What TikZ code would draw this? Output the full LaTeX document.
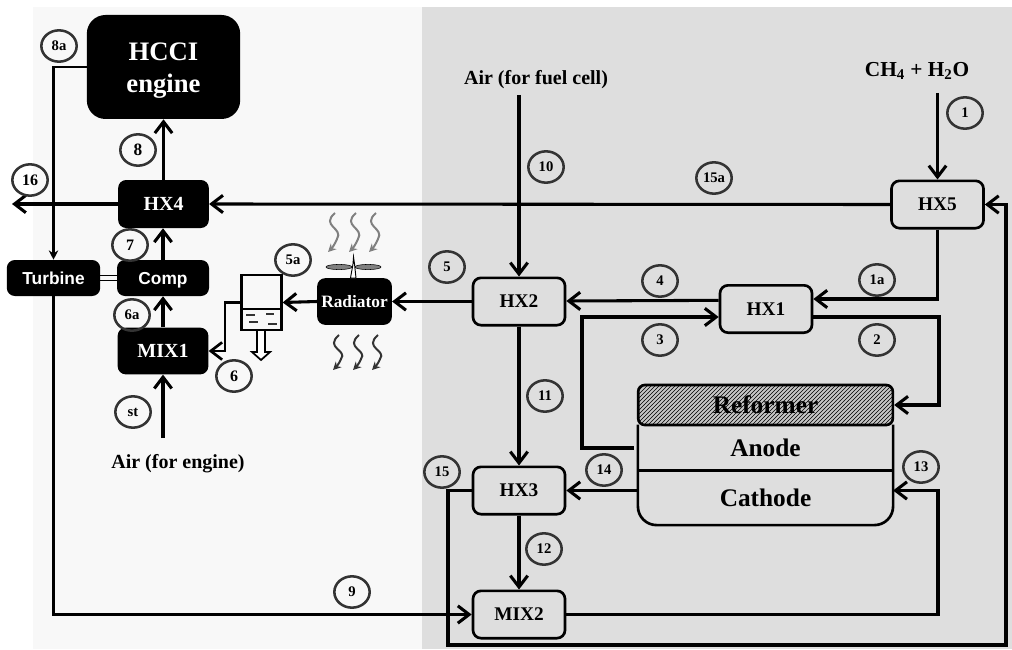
\documentclass[tikz,border=0pt]{standalone}
\usepackage{amsmath}
\usepackage{fontspec}
\setmainfont{Liberation Serif}
\setsansfont{Liberation Sans}
\usetikzlibrary{arrows.meta,patterns,shapes.geometric}
\definecolor{leftpanel}{HTML}{F8F8F8}
\definecolor{rightpanel}{HTML}{DEDEDE}
\definecolor{tagline}{HTML}{333333}
\tikzset{
	flow/.style={line width=2.3pt,-{Straight Barb[length=8.5pt,width=13pt]}},
	thinflow/.style={line width=2pt,-{Stealth[length=7pt,width=7pt]}},
	blackbox/.style 2 args={rectangle,rounded corners=6pt,fill=black,text=white,inner sep=0pt,minimum width=#1,minimum height=#2,font=\bfseries},
	hxbox/.style={rectangle,rounded corners=6pt,draw,line width=2pt,inner sep=0pt,minimum width=69pt,minimum height=35.5pt,font=\fontsize{14.5}{14.5}\selectfont\bfseries},
	tag/.style={ellipse,draw=tagline,line width=1.9pt,inner sep=0pt,minimum width=26.5pt,minimum height=23.5pt,font=\fontsize{#1}{#1}\selectfont\bfseries},
	tag/.default=11,
	caption/.style={inner sep=0pt,font=\fontsize{15}{15}\selectfont\bfseries}
}

\begin{document}
\begin{tikzpicture}[x=0.75pt,y=-0.75pt]
	\useasboundingbox (0,0) rectangle (1012,649);
	\fill [leftpanel] (33,7) rectangle (422,649);
	\fill [rightpanel] (422,7) rectangle (1012,649);

	\node [blackbox={115pt}{78pt},rounded corners=14pt,label={[text=white,align=center,font=\fontsize{20}{24}\selectfont\bfseries,yshift=-3pt]center:HCCI\\engine}] (engine) at (163.5,67) {};
	\node [blackbox={68pt}{36pt},font=\fontsize{15}{15}\selectfont\bfseries] (hxfour) at (163.5,204) {HX4};
	\node [blackbox={69pt}{27pt},text height=9.5pt,text depth=0pt,font=\fontsize{13}{13}\selectfont\sffamily\bfseries] (comp) at (163,278) {Comp};
	\node [blackbox={70pt}{27pt},text height=9.5pt,text depth=0pt,font=\fontsize{13}{13}\selectfont\sffamily\bfseries] (turbine) at (53.5,278) {Turbine};
	\node [blackbox={68pt}{35pt},font=\fontsize{15}{15}\selectfont\bfseries] (mixone) at (163,351) {MIX1};
	\node [blackbox={56pt}{35pt},font=\fontsize{13}{13}\selectfont\bfseries] (radiator) at (354.5,301.5) {Radiator};
	\node [rectangle,draw,line width=1.7pt,inner sep=0pt,minimum width=30pt,minimum height=41pt] (tank) at (261.5,302.5) {};

	\node [hxbox] (hxfive) at (937.5,204.5) {HX5};
	\node [hxbox] (hxtwo) at (519,301.5) {HX2};
	\node [hxbox] (hxone) at (766,309) {HX1};
	\node [hxbox] (hxthree) at (519,490.5) {HX3};
	\node [hxbox] (mixtwo) at (519,614.5) {MIX2};

	\node [rectangle,rounded corners=5pt,draw,line width=2pt,preaction={fill=gray!45},pattern=north east lines,inner sep=0pt,minimum width=191pt,minimum height=30pt,font=\fontsize{19}{19}\selectfont\bfseries] (reformer) at (765.5,405) {Reformer};
	\node [inner sep=0pt,minimum width=191pt,minimum height=34pt,font=\fontsize{19}{19}\selectfont\bfseries] (anode) at (765.5,447.5) {Anode};
	\node [inner sep=0pt,minimum width=191pt,minimum height=41pt,font=\fontsize{19}{19}\selectfont\bfseries] (cathode) at (765.5,497.5) {Cathode};
	\draw [line width=2pt,rounded corners=14pt] (anode.north west) -- (cathode.south west) -- (cathode.south east) -- (anode.north east);
	\draw [line width=2pt] (anode.south west) -- (anode.south east);

	\node [caption] (airfuel) at (536,80) {Air (for fuel cell)};
	\node [caption] (airengine) at (178,464) {Air (for engine)};
	\node [caption,font=\fontsize{16}{16}\selectfont\bfseries] (feed) at (917,71) {CH$_{\mathbf{4}}$ + H$_{\mathbf{2}}$O};

	\coordinate (feedend) at (937.5,93);
	\coordinate (airfuelend) at (519,95);
	\coordinate (airengineend) at (163,438);
	\coordinate (exhaust) at (12,204);
	\coordinate (anodeout) at (634,448);
	\coordinate (corner) at (1006,645);

	\draw [flow] (feedend) -- (hxfive.north);
	\draw [flow] (airfuelend) -- (hxtwo.north);
	\draw [flow] (airengineend) -- (mixone.south);
	\draw [flow] (hxfive.west) -- (hxfour.east);
	\draw [flow] (hxfour.west) -- (exhaust);
	\draw [flow] (hxfour.north) -- (engine.south);
	\draw [flow] (comp.north) -- (comp.north |- hxfour.south);
	\draw [flow] (mixone.north) -- (mixone.north |- comp.south);
	\draw [flow] (hxtwo.west) -- (radiator.east);
	\draw [flow] (radiator.west) -- (tank.east);
	\draw [flow] (hxfive.south) |- ([yshift=7.5pt]hxone.east);
	\draw [flow] ([yshift=6.5pt]hxone.west) -- ([yshift=6pt]hxone.west -| hxtwo.east);
	\draw [flow] ([yshift=-6pt]hxone.east) -| (939,405) -- (reformer.east);
	\draw [flow] (anodeout) -| (582,317) -- ([yshift=-6pt]hxone.west);
	\draw [flow] (hxtwo.south) -- (hxthree.north);
	\draw [flow] (hxthree.south) -- (mixtwo.north);
	\draw [flow] (cathode.west |- hxthree.east) -- (hxthree.east);
	\draw [flow] (mixtwo.east) -| (938,490.5) -- (cathode.east |- hxthree.east);
	\draw [flow] (hxthree.west) -| (448,645) -- (corner) |- (hxfive.east);
	\draw [thinflow] (engine.west) -| (turbine.north);
	\draw [flow] (turbine.south) |- (mixtwo.west);
	\draw [line width=0.9pt] ([yshift=1.9pt]turbine.east) -- ([yshift=1.9pt]comp.west);
	\draw [line width=0.9pt] ([yshift=-1.9pt]turbine.east) -- ([yshift=-1.9pt]comp.west);
	\draw [flow,line width=2pt] (tank.west) -| (225,351) -- (mixone.east);

	\draw [line width=1.5pt] (tank.west |- 0,309) -- (tank.east |- 0,309);
	\draw [line width=0.8pt,gray!40!black] (246,315) -- (255,315) (266,314) -- (274,314) (249,322) -- (258,322) (268,324) -- (277,324);
	\draw [line width=1.3pt,fill=white,line join=miter] (257,331) -- (257,352) -- (252,352) -- (261,360) -- (270,352) -- (265,352) -- (265,331);

	\foreach \x in {0,21,41}
		\draw [gray,line width=1.5pt,-{Stealth[length=6pt,width=6pt]}] (335+\x,213) .. controls (320+\x,226) and (344+\x,228) .. (337+\x,239) .. controls (335+\x,244) and (332+\x,248) .. (328+\x,252);
	\foreach \x in {0,20,39}
		\draw [black!80,line width=1.5pt,-{Stealth[length=6pt,width=6pt]}] (339+\x,335) .. controls (324+\x,348) and (348+\x,350) .. (341+\x,359) .. controls (339+\x,364) and (336+\x,367) .. (333+\x,370);

	\draw [fill=gray,line width=0.4pt] (339,267) ellipse (13 and 2.6);
	\draw [fill=gray,line width=0.4pt] (368,267) ellipse (13 and 2.6);
	\draw [fill=white,line width=0.7pt] (350.5,278) -- (353,264) -- (353.5,257) -- (354.5,264) -- (356,278) -- cycle;

	\node [tag] (tageighta) at (59,46) {8a};
	\node [tag=13] (tageight) at (138,150) {8};
	\node [tag=12] (tagsixteen) at (30,180) {16};
	\node [tag=12] (tagseven) at (130,245) {7};
	\node [tag] (tagsixa) at (132,315) {6a};
	\node [tag] (tagfivea) at (293,260) {5a};
	\node [tag=12] (tagsix) at (234,376) {6};
	\node [tag] (tagst) at (133,412) {st};
	\node [tag] (tagfive) at (447,267) {5};
	\node [tag] (tagten) at (546,167) {10};
	\node [tag] (tagfifteena) at (714,178) {15a};
	\node [tag] (tagone) at (965,113) {1};
	\node [tag] (tagonea) at (877,280) {1a};
	\node [tag] (tagfour) at (660,281) {4};
	\node [tag] (tagthree) at (660,340) {3};
	\node [tag] (tagtwo) at (877,340) {2};
	\node [tag] (tageleven) at (545,396) {11};
	\node [tag] (tagfourteen) at (604,470) {14};
	\node [tag] (tagthirteen) at (921,467) {13};
	\node [tag] (tagfifteen) at (442,472) {15};
	\node [tag] (tagtwelve) at (544,549) {12};
	\node [tag] (tagnine) at (352,592) {9};
\end{tikzpicture}
\end{document}
